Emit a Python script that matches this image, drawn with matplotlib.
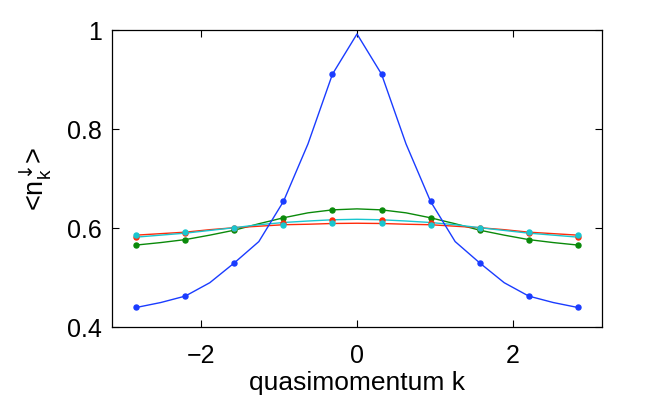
import matplotlib.pyplot as plt
import numpy as np

# quasimomentum grid (line points) and the coarse grid (marker points)
k_line = [-2.827, -2.513, -2.199, -1.885, -1.571, -1.257, -0.942, -0.628, -0.314, 0.0,
          0.314, 0.628, 0.942, 1.257, 1.571, 1.885, 2.199, 2.513, 2.827]
k_dots = [-2.827, -2.199, -1.571, -0.942, -0.314, 0.314, 0.942, 1.571, 2.199, 2.827]

blue_line = [0.440, 0.450, 0.463, 0.490, 0.530, 0.573, 0.654, 0.770, 0.911, 0.992,
             0.911, 0.770, 0.654, 0.573, 0.530, 0.490, 0.463, 0.450, 0.440]
green_line = [0.566, 0.571, 0.577, 0.586, 0.596, 0.609, 0.621, 0.631, 0.637, 0.639,
              0.637, 0.631, 0.621, 0.609, 0.596, 0.586, 0.577, 0.571, 0.566]
red_line = [0.586, 0.589, 0.592, 0.597, 0.601, 0.604, 0.607, 0.608, 0.6095, 0.610,
            0.6095, 0.608, 0.607, 0.604, 0.601, 0.597, 0.592, 0.589, 0.586]
cyan_line = [0.582, 0.586, 0.590, 0.5955, 0.601, 0.607, 0.6115, 0.6145, 0.617, 0.618,
             0.617, 0.6145, 0.6115, 0.607, 0.601, 0.5955, 0.590, 0.586, 0.582]

blue_dots = [0.440, 0.463, 0.530, 0.654, 0.911, 0.911, 0.654, 0.530, 0.463, 0.440]
green_dots = [0.566, 0.577, 0.596, 0.621, 0.637, 0.637, 0.621, 0.596, 0.577, 0.566]
red_dots = [0.582, 0.590, 0.601, 0.6115, 0.617, 0.617, 0.6115, 0.601, 0.590, 0.582]
cyan_dots = [0.586, 0.592, 0.601, 0.607, 0.6095, 0.6095, 0.607, 0.601, 0.592, 0.586]

colors = {
    "blue": "#1a3cff",
    "green": "#0a8a0a",
    "red": "#ff2a0a",
    "cyan": "#19c6cf",
}

plt.rcParams["font.family"] = ["Liberation Sans", "DejaVu Sans"]
plt.rcParams["mathtext.fontset"] = "custom"
plt.rcParams["mathtext.rm"] = "Liberation Sans"
plt.rcParams["mathtext.it"] = "Liberation Sans"
plt.rcParams["mathtext.sf"] = "DejaVu Sans"

fig = plt.figure(figsize=(6.64, 3.99), dpi=100)
ax = fig.add_axes([0.1682, 0.1797, 0.7389, 0.7451])

for name, vals in [("green", green_line), ("red", red_line), ("cyan", cyan_line)]:
    ax.plot(k_line, vals, color=colors[name], linewidth=1.0)
for name, vals in [("green", green_dots), ("red", red_dots), ("cyan", cyan_dots)]:
    ax.plot(k_dots, vals, linestyle="none", marker="o", markersize=3.6,
            color=colors[name])
ax.plot(k_line, blue_line, color=colors["blue"], linewidth=1.0)
ax.plot(k_dots, blue_dots, linestyle="none", marker="o", markersize=3.6,
        color=colors["blue"])

ax.set_xlim(-np.pi, np.pi)
ax.set_ylim(0.4, 1.0)
ax.set_xticks([-2, 0, 2])
ax.set_xticklabels(["\u22122", "0", "2"])
ax.set_yticks([0.4, 0.6, 0.8, 1.0])
ax.set_yticklabels(["0.4", "0.6", "0.8", "1"])
ax.tick_params(direction="in", length=5, width=0.8, top=True, right=True,
               labelsize=18)
ax.tick_params(axis="x", pad=12)
ax.tick_params(axis="y", pad=7)
for spine in ax.spines.values():
    spine.set_linewidth(0.9)

ax.set_xlabel("quasimomentum k", fontsize=19, labelpad=2)
ax.set_ylabel("<n$_k^{\\mathsf{\u2193}}$>", fontsize=19.5, labelpad=10)

fig.savefig("out.png", dpi=100)
